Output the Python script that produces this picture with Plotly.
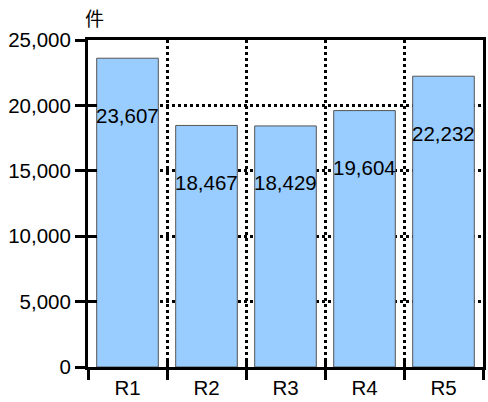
import plotly.graph_objects as go

# Categories and counts
categories = ["R1", "R2", "R3", "R4", "R5"]
counts = [23607, 18467, 18429, 19604, 22232]
y_ticks = [0, 5000, 10000, 15000, 20000, 25000]
y_tick_text = ["0", "5,000", "10,000", "15,000", "20,000", "25,000"]
unit_label = "件"

FONT = "Liberation Sans, Arial, Noto Sans CJK JP, sans-serif"
BAR_FILL = "#99CCFF"
BAR_EDGE = "#555555"
SIZE = 20.5

fig = go.Figure()

fig.add_trace(go.Bar(
    x=categories, y=counts,
    marker=dict(color=BAR_FILL, line=dict(color=BAR_EDGE, width=1)),
    hoverinfo="skip", showlegend=False,
))

# Invisible copy on overlay axes so the inner half of the crossing ticks can be drawn
fig.add_trace(go.Bar(
    x=categories, y=counts, xaxis="x2", yaxis="y2",
    marker=dict(color="rgba(0,0,0,0)"), opacity=0,
    hoverinfo="skip", showlegend=False,
))

# Value labels sitting a fixed distance below each bar top
for c, v in zip(categories, counts):
    fig.add_annotation(
        x=c, y=v, xref="x", yref="y", yshift=-57,
        text=f"{v:,}", showarrow=False,
        font=dict(family=FONT, size=SIZE, color="#000000"),
    )

# Unit label above the value axis
fig.add_annotation(
    xref="paper", yref="paper", x=-0.013, y=1.10,
    text=unit_label, showarrow=False,
    font=dict(family=FONT, size=19, color="#000000"),
)

yrange = [0, 25000]
fig.update_layout(
    width=488, height=402,
    margin=dict(l=88, r=2, t=40, b=35),
    paper_bgcolor="white", plot_bgcolor="white",
    bargap=0.22,
    font=dict(family=FONT, size=SIZE, color="#000000"),
    xaxis=dict(
        type="category", categoryorder="array", categoryarray=categories,
        range=[-0.5, 4.5],
        tickson="boundaries", ticks="outside", ticklen=10, tickwidth=3, tickcolor="#000",
        showline=True, linewidth=3, linecolor="#000", mirror=True,
        showgrid=True, gridcolor="#000", gridwidth=3, griddash="dot",
        tickfont=dict(family=FONT, size=SIZE),
    ),
    yaxis=dict(
        range=yrange, tickvals=y_ticks, ticktext=y_tick_text,
        ticks="outside", ticklen=10, tickwidth=3, tickcolor="#000",
        showline=True, linewidth=3, linecolor="#000", mirror=True,
        showgrid=True, gridcolor="#000", gridwidth=3, griddash="dot",
        zeroline=False,
        tickfont=dict(family=FONT, size=SIZE),
    ),
    xaxis2=dict(
        type="category", categoryorder="array", categoryarray=categories,
        range=[-0.5, 4.5], overlaying="x", side="bottom", anchor="y2",
        tickson="boundaries", ticks="inside", ticklen=7, tickwidth=3, tickcolor="#000",
        showticklabels=False, showgrid=False, showline=False,
    ),
    yaxis2=dict(
        range=yrange, tickvals=y_ticks, overlaying="y", side="left", anchor="x2",
        ticks="inside", ticklen=9, tickwidth=3, tickcolor="#000",
        showticklabels=False, showgrid=False, showline=False, zeroline=False,
    ),
)

fig.write_html("out.html")
